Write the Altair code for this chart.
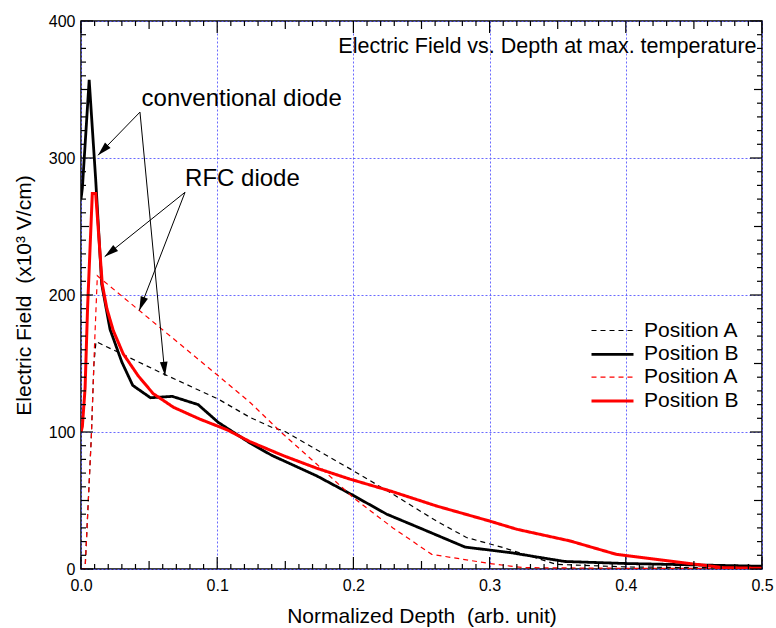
import math
import altair as alt
import pandas as pd
import numpy as np

# ---------------- data ----------------
conv_A_x = [0, 0.003, 0.0076, 0.0095, 0.011, 0.058, 0.1008, 0.124, 0.141, 0.1486, 0.2, 0.229, 0.261, 0.283, 0.31, 0.349, 0.4, 0.45, 0.5]
conv_A_y = [0, 0, 97, 150, 166, 143.6, 124, 110.7, 103, 101, 71.7, 54.6, 35, 23, 15.6, 3.4, 1.5, 1, 1]

conv_B_x = [0, 0.001, 0.006, 0.0108, 0.0152, 0.0213, 0.030, 0.038, 0.051, 0.067, 0.086, 0.1008, 0.124, 0.140, 0.173, 0.1975, 0.2245, 0.251, 0.282, 0.315, 0.355, 0.40, 0.45, 0.5]
conv_B_y = [270, 278, 357, 284, 208, 175, 151, 134, 125, 126, 120, 107, 92, 83, 68, 55, 40, 29, 16, 12, 5.5, 4, 3, 2]

rfc_A_x = [0, 0.003, 0.0076, 0.0098, 0.012, 0.1008, 0.124, 0.147, 0.173, 0.2, 0.229, 0.2575, 0.3, 0.3245, 0.4, 0.5]
rfc_A_y = [0, 0, 97, 160, 214, 141, 121.7, 99.7, 76.6, 52, 30, 10.7, 4, 1, 0.5, 0.5]

rfc_B_x = [0, 0.001, 0.003, 0.0048, 0.0083, 0.0108, 0.0156, 0.019, 0.0237, 0.031, 0.042, 0.053, 0.068, 0.087, 0.107, 0.124, 0.1486, 0.173, 0.1975, 0.227, 0.261, 0.300, 0.32, 0.359, 0.393, 0.442, 0.4716, 0.5]
rfc_B_y = [100, 104, 132, 190, 274, 274, 208, 190, 174, 157, 141, 128, 118, 109.5, 101.7, 93, 82.7, 73.6, 65.6, 57, 46, 35, 29, 20.5, 10.7, 4.6, 1, 0.5]

series_keys = ["A_conv", "B_conv", "A_rfc", "B_rfc"]
series_labels = ["Position A", "Position B", "Position A", "Position B"]

x_ticks = [0.0, 0.1, 0.2, 0.3, 0.4, 0.5]
y_ticks = [0, 100, 200, 300, 400]
x_minor_step = 0.01
y_minor_step = 10

# annotations
ann_text = ["conventional diode", "RFC diode"]
ann_text_x = [0.0445, 0.0764]
ann_text_y = [337.8, 279.3]
arrow_start_x = [0.0433, 0.0433, 0.0764, 0.0764]
arrow_start_y = [333.5, 333.5, 275.0, 275.0]
arrow_tip_x = [0.0125, 0.0617, 0.0174, 0.0428]
arrow_tip_y = [302.0, 141.0, 228.0, 188.7]

title_text = "Electric Field vs. Depth at max. temperature"
x_title = "Normalized Depth\u00a0 (arb. unit)"
y_title = "Electric Field\u00a0 (x10³ V/cm)"

# ---------------- layout ----------------
W, H = 681, 548
XMAX, YMAX = 0.5, 400
FONT = "Liberation Sans"
GRID = dict(grid=True, gridColor="#5a5aff", gridDash=[2, 2], gridWidth=1, gridOpacity=0.9,
            labelFont=FONT, labelFontSize=16, labelColor="black",
            titleFont=FONT, titleFontSize=21, titleColor="black", titleFontWeight="normal",
            ticks=False, domain=False, labelFlush=False)

def px(x):
    return x / XMAX * W

def py(y):
    return H - y / YMAX * H

rows = []
for key, xs, ys in zip(series_keys, [conv_A_x, conv_B_x, rfc_A_x, rfc_B_x],
                       [conv_A_y, conv_B_y, rfc_A_y, rfc_B_y]):
    for i, (x, y) in enumerate(zip(xs, ys)):
        rows.append({"series": key, "depth": x, "efield": y, "order": i})
df = pd.DataFrame(rows)

xscale = alt.Scale(domain=[0, XMAX], nice=False, zero=False)
yscale = alt.Scale(domain=[0, YMAX], nice=False, zero=False)

label_expr = "datum.label[0] == 'A' ? 'Position A' : 'Position B'"
legend = alt.Legend(
    title=None, orient="none", legendX=519.5, legendY=298,
    labelExpr=label_expr, labelFont=FONT, labelFontSize=21, labelColor="black",
    symbolType="M-2,0H2", symbolSize=441,
    rowPadding=1.3, padding=0, labelOffset=19.5,
)

lines = alt.Chart(df).mark_line(clip=True).encode(
    x=alt.X("depth:Q", scale=xscale, axis=alt.Axis(
        values=x_ticks, format=".1f", title=x_title, labelPadding=8, titlePadding=12, **GRID)),
    y=alt.Y("efield:Q", scale=yscale, axis=alt.Axis(
        values=y_ticks, format="d", title=y_title, labelPadding=6, titlePadding=14, **GRID)),
    color=alt.Color("series:N", scale=alt.Scale(domain=series_keys, range=["black", "black", "red", "red"]), legend=legend),
    strokeDash=alt.StrokeDash("series:N", scale=alt.Scale(domain=series_keys, range=[[5, 4], [1, 0], [5, 4], [1, 0]]), legend=legend),
    strokeWidth=alt.StrokeWidth("series:N", scale=alt.Scale(type="ordinal", domain=series_keys, range=[1.2, 2.8, 1.2, 3.0]), legend=legend),
    order="order:Q",
)

# ---- annotation arrows ----
seg_rows = []
head_rows = []
for i in range(len(arrow_tip_x)):
    seg_rows.append({"ax": arrow_start_x[i], "ay": arrow_start_y[i],
                     "ax2": arrow_tip_x[i], "ay2": arrow_tip_y[i]})
    dx = px(arrow_tip_x[i]) - px(arrow_start_x[i])
    dy = py(arrow_tip_y[i]) - py(arrow_start_y[i])
    ang = math.degrees(math.atan2(dx, -dy)) % 360
    head_rows.append({"ax": arrow_tip_x[i], "ay": arrow_tip_y[i], "angle": ang})

# ---- inward frame ticks as rules from the frame edge ----
TLEN = [12, 8, 5]  # pixel lengths: major, half, minor
def cls(v, major, half):
    if abs(v / major - round(v / major)) < 1e-6:
        return 0
    if abs(v / half - round(v / half)) < 1e-6:
        return 1
    return 2

tick_rows = []
for k in range(int(round(XMAX / x_minor_step)) + 1):
    v = round(k * x_minor_step, 4)
    L = TLEN[cls(v, 0.1, 0.05)] * YMAX / H
    tick_rows.append({"ax": v, "ay": 0.0, "ax2": v, "ay2": L})
    tick_rows.append({"ax": v, "ay": YMAX, "ax2": v, "ay2": YMAX - L})
for k in range(int(round(YMAX / y_minor_step)) + 1):
    v = float(k * y_minor_step)
    L = TLEN[cls(v, 100, 50)] * XMAX / W
    tick_rows.append({"ax": 0.0, "ay": v, "ax2": L, "ay2": v})
    tick_rows.append({"ax": XMAX, "ay": v, "ax2": XMAX - L, "ay2": v})

seg_df = pd.DataFrame(seg_rows)
tick_df = pd.DataFrame(tick_rows)
head_df = pd.DataFrame(head_rows)

def rule_layer(data, width):
    return alt.Chart(data).mark_rule(color="black", strokeWidth=width, opacity=1).encode(
        x=alt.X("ax:Q", scale=xscale, axis=None), y=alt.Y("ay:Q", scale=yscale, axis=None),
        x2="ax2:Q", y2="ay2:Q")

arrows = rule_layer(seg_df, 1)
ticks = rule_layer(tick_df, 1.2)

arrow_heads = alt.Chart(head_df).mark_point(
    shape="M0,0L-0.55,2L0.55,2Z", filled=True, color="black", opacity=1, size=196, strokeWidth=0
).encode(
    x=alt.X("ax:Q", scale=xscale, axis=None), y=alt.Y("ay:Q", scale=yscale, axis=None),
    angle=alt.Angle("angle:Q", scale=None))

ann_df = pd.DataFrame({"t": ann_text, "ax": ann_text_x, "ay": ann_text_y})
ann = alt.Chart(ann_df).mark_text(align="left", baseline="alphabetic", font=FONT, fontSize=24, color="black").encode(
    x=alt.X("ax:Q", scale=xscale, axis=None), y=alt.Y("ay:Q", scale=yscale, axis=None), text="t:N")

ttl_df = pd.DataFrame({"t": [title_text], "ax": [0.4960], "ay": [376.6]})
ttl = alt.Chart(ttl_df).mark_text(align="right", baseline="alphabetic", font=FONT, fontSize=21.5, color="black").encode(
    x=alt.X("ax:Q", scale=xscale, axis=None), y=alt.Y("ay:Q", scale=yscale, axis=None), text="t:N")

chart = alt.layer(lines, arrows, ticks, arrow_heads, ann, ttl).resolve_axis(
    x="independent", y="independent"
).resolve_scale(x="shared", y="shared").properties(
    width=W, height=H,
    background="white",
    view=alt.ViewBackground(stroke="black", strokeWidth=1.5),
    autosize=alt.AutoSizeParams(type="none"),
    padding={"left": 81, "top": 21, "right": 14, "bottom": 59},
)

chart.save("out.html", embed_options={"renderer": "svg", "actions": False})
